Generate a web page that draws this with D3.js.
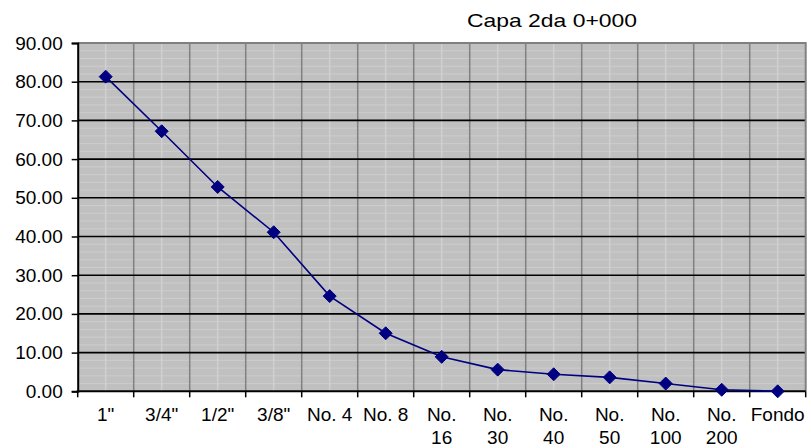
<!DOCTYPE html>
<html>
<head>
<meta charset="utf-8">
<script src="https://cdn.jsdelivr.net/npm/d3@7"></script>
<style>
  body { margin: 0; background: #fff; }
  text { font-family: "Liberation Sans", Arial, sans-serif; fill: #000; }
</style>
</head>
<body>
<div id="chart"></div>
<script>
// Granulometria - Capa 2da 0+000
const title = "Capa 2da 0+000";
const categories = ['1"', '3/4"', '1/2"', '3/8"', "No. 4", "No. 8", "No. 16", "No. 30", "No. 40", "No. 50", "No. 100", "No. 200", "Fondo"];
// tick labels as Excel wraps them
const tickLabels = [['1"'], ['3/4"'], ['1/2"'], ['3/8"'], ["No. 4"], ["No. 8"], ["No.", "16"], ["No.", "30"], ["No.", "40"], ["No.", "50"], ["No.", "100"], ["No.", "200"], ["Fondo"]];
const passing = [81.3, 67.2, 52.8, 41.1, 24.6, 15.0, 8.9, 5.6, 4.4, 3.6, 2.0, 0.4, 0.0];
const yTicks = [0, 10, 20, 30, 40, 50, 60, 70, 80, 90];
const yMinorTicks = d3.range(0, 90, 2).filter(v => v % 10 != 0);

const width = 811, height = 448;
const margin = {top: 43, right: 5.3, bottom: 56.7, left: 77.7};
const w = width - margin.left - margin.right;
const h = height - margin.top - margin.bottom;

const svg = d3.select("#chart").append("svg")
    .attr("width", width)
    .attr("height", height);

const g = svg.append("g")
    .attr("transform", "translate(" + margin.left + "," + margin.top + ")");

// Scales
const xScale = d3.scaleBand()
    .domain(categories)
    .range([0, w]);
const yScale = d3.scaleLinear()
    .domain([0, 90])
    .range([h, 0]);

// Plot area background
g.append("rect")
    .attr("width", w)
    .attr("height", h)
    .attr("fill", "#c0c0c0");

// Minor horizontal gridlines
g.append("g").selectAll("line")
    .data(yMinorTicks)
    .enter().append("line")
    .attr("x1", 0).attr("x2", w)
    .attr("y1", d => yScale(d)).attr("y2", d => yScale(d))
    .attr("stroke", "#cdcdcd")
    .attr("stroke-width", 1);

// Minor vertical gridlines (category centres)
g.append("g").selectAll("line")
    .data(categories)
    .enter().append("line")
    .attr("x1", d => xScale(d) + xScale.bandwidth() / 2)
    .attr("x2", d => xScale(d) + xScale.bandwidth() / 2)
    .attr("y1", 0).attr("y2", h)
    .attr("stroke", "#d0d0d0")
    .attr("stroke-width", 1.5);

// Major vertical gridlines (category boundaries)
g.append("g").selectAll("line")
    .data(categories.slice(1))
    .enter().append("line")
    .attr("x1", d => xScale(d)).attr("x2", d => xScale(d))
    .attr("y1", 0).attr("y2", h)
    .attr("stroke", "#808080")
    .attr("stroke-width", 1.5);

// Major horizontal gridlines
g.append("g").selectAll("line")
    .data(yTicks.slice(1, -1))
    .enter().append("line")
    .attr("x1", 0).attr("x2", w)
    .attr("y1", d => yScale(d)).attr("y2", d => yScale(d))
    .attr("stroke", "#000")
    .attr("stroke-width", 1.6);

// Top and right border
g.append("path")
    .attr("d", "M0," + yScale(90) + "H" + w + "V" + h)
    .attr("fill", "none")
    .attr("stroke", "#808080")
    .attr("stroke-width", 2);

// Y axis
const yAxis = g.append("g")
    .call(d3.axisLeft(yScale).tickValues(yTicks).tickFormat(d3.format(".2f")).tickSize(6).tickPadding(9));
yAxis.select(".domain").attr("stroke", "#000").attr("stroke-width", 2);
yAxis.selectAll(".tick line").attr("stroke", "#000").attr("stroke-width", 1.5);
yAxis.selectAll("text")
    .style("font-size", "19px")
    .attr("fill", "#000")
    .attr("font-family", "Liberation Sans, Arial, sans-serif");

// X axis: ticks at boundaries, labels at centres
const xAxis = g.append("g")
    .attr("transform", "translate(0," + h + ")");
xAxis.append("line")
    .attr("x1", -1).attr("x2", w)
    .attr("stroke", "#000").attr("stroke-width", 2);
xAxis.selectAll(".xtick")
    .data(categories.concat(["end"]))
    .enter().append("line")
    .attr("class", "xtick")
    .attr("x1", (d, i) => i < categories.length ? xScale(d) : w)
    .attr("x2", (d, i) => i < categories.length ? xScale(d) : w)
    .attr("y1", 0).attr("y2", 6)
    .attr("stroke", "#000").attr("stroke-width", 1.5);

const labels = xAxis.selectAll(".xlabel")
    .data(categories)
    .enter().append("text")
    .attr("class", "xlabel")
    .attr("text-anchor", "middle")
    .attr("x", d => xScale(d) + xScale.bandwidth() / 2)
    .attr("y", 30)
    .style("font-size", "19px");
labels.selectAll("tspan")
    .data((d, i) => tickLabels[i])
    .enter().append("tspan")
    .attr("x", function () { return d3.select(this.parentNode).attr("x"); })
    .attr("dy", (d, i) => i == 0 ? 0 : 23)
    .text(d => d);

// Series line
const line = d3.line()
    .x((d, i) => xScale(categories[i]) + xScale.bandwidth() / 2)
    .y(d => yScale(d));
g.append("path")
    .datum(passing)
    .attr("d", line)
    .attr("fill", "none")
    .attr("stroke", "#000080")
    .attr("stroke-width", 1.6);

// Diamond markers
g.append("g").selectAll("path")
    .data(passing)
    .enter().append("path")
    .attr("transform", (d, i) => "translate(" + (xScale(categories[i]) + xScale.bandwidth() / 2) + "," + yScale(d) + ")")
    .attr("d", "M0,-6.5L6.5,0L0,6.5L-6.5,0Z")
    .attr("fill", "#000080")
    .attr("stroke", "#000080")
    .attr("stroke-width", 1);

// Title
svg.append("text")
    .attr("x", 552)
    .attr("y", 27)
    .attr("text-anchor", "middle")
    .attr("textLength", 170)
    .attr("lengthAdjust", "spacingAndGlyphs")
    .style("font-size", "19px")
    .text(title);
</script>
</body>
</html>
